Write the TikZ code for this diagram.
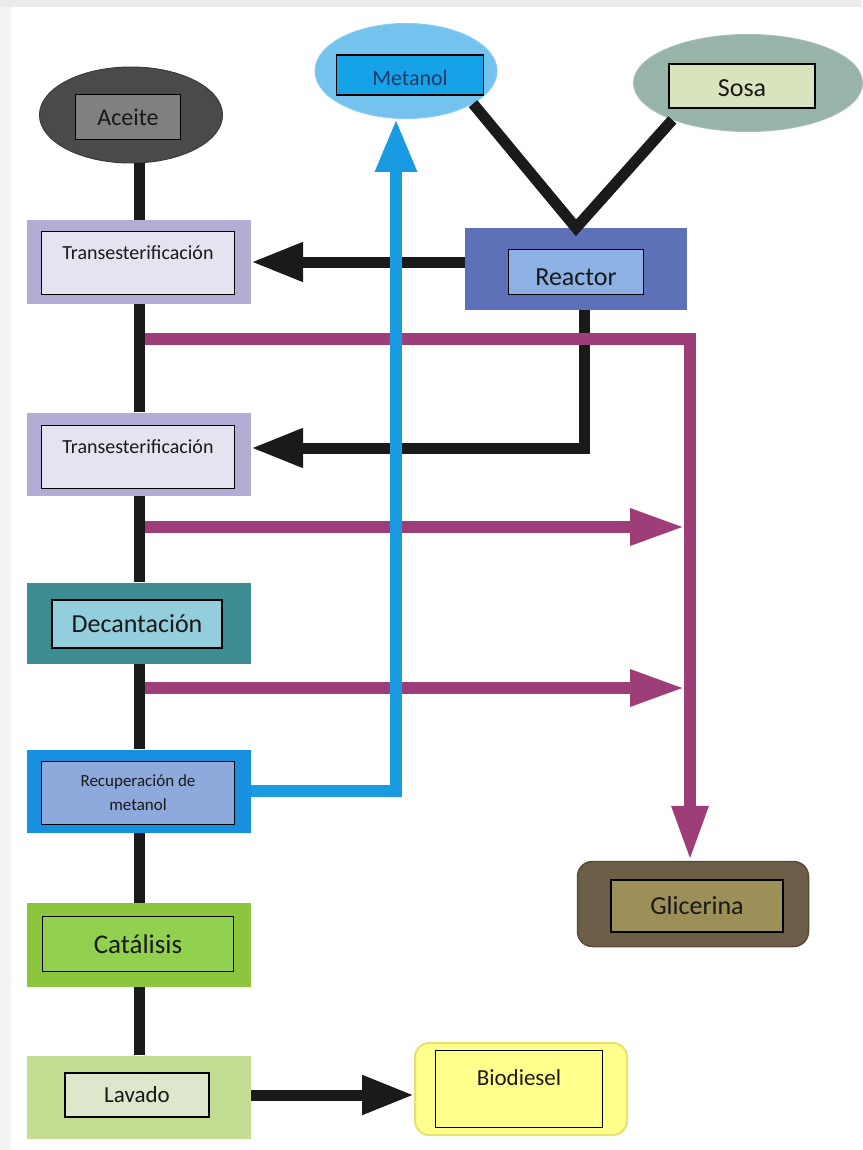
\documentclass[tikz,border=0pt]{standalone}
\usepackage{fontspec}
\setmainfont{Carlito}
\usetikzlibrary{arrows.meta,shapes.geometric}
\definecolor{framegray}{HTML}{EBEBEB}
\definecolor{oilgray}{HTML}{4A4A4A}
\definecolor{oiltag}{HTML}{808080}
\definecolor{methsky}{HTML}{74C3EE}
\definecolor{methtag}{HTML}{16A2E6}
\definecolor{methtext}{HTML}{1F3A68}
\definecolor{sodagray}{HTML}{98B3A8}
\definecolor{sodatag}{HTML}{D9E4BE}
\definecolor{translav}{HTML}{B3ADD6}
\definecolor{transtag}{HTML}{E6E2F0}
\definecolor{reacblue}{HTML}{5E71B8}
\definecolor{reactag}{HTML}{8DB1E4}
\definecolor{decteal}{HTML}{3D8C92}
\definecolor{dectag}{HTML}{93CEDC}
\definecolor{recblue}{HTML}{1890E0}
\definecolor{rectag}{HTML}{8EA9DB}
\definecolor{catgreen}{HTML}{8CC63F}
\definecolor{cattag}{HTML}{92D050}
\definecolor{lavgreen}{HTML}{C3DE92}
\definecolor{lavtag}{HTML}{DCE7CB}
\definecolor{biofill}{HTML}{FFFF8C}
\definecolor{bioedge}{HTML}{E8E070}
\definecolor{glybrown}{HTML}{6D5E47}
\definecolor{glytag}{HTML}{9D8F58}
\definecolor{pipeblack}{HTML}{1A1A1A}
\definecolor{glypipe}{HTML}{9E3E78}
\definecolor{methpipe}{HTML}{1A9AE0}

\begin{document}
\begin{tikzpicture}[
  x=1pt, y=-1pt,
  stage/.style={rectangle, inner sep=0pt, minimum width=224pt, minimum height=83pt},
  tag/.style={rectangle, draw=black, line width=1.3pt, inner sep=0pt, align=center, text=black!90, font=\fontsize{20}{24}\selectfont},
  source/.style={ellipse, inner sep=0pt, line width=1pt},
  pipe/.style={line width=11pt, draw=pipeblack},
  flow/.style={pipe, -{Triangle[length=52pt,width=37pt]}},
  glyflow/.style={line width=12pt, draw=glypipe, -{Triangle[length=55pt,width=34pt]}},
  methflow/.style={line width=12pt, draw=methpipe, -{Triangle[length=53pt,width=39pt]}}
]
\useasboundingbox (0,0) rectangle (862,1150);
\fill[white] (0,0) rectangle (862,1150);
\fill[framegray] (0,0) rectangle (862,7);
\fill[framegray!60] (0,7) rectangle (11,1150);

% raw materials
\node[source, fill=oilgray, draw=oilgray!80!black, minimum width=183pt, minimum height=96pt] (aceite) at (131,115) {};
\node[tag, fill=oiltag, minimum width=105pt, minimum height=45pt, font=\fontsize{24}{28}\selectfont] (aceitetag) at (128,117) {Aceite};
\node[source, fill=methsky, draw=methsky!85!white, minimum width=182pt, minimum height=95pt] (metanol) at (406,71) {};
\node[tag, fill=methtag, minimum width=147pt, minimum height=40pt, text=methtext, font=\fontsize{22}{26}\selectfont, text height=22pt, text depth=0pt] (metanoltag) at (410,75) {Metanol};
\node[source, fill=sodagray, draw=sodagray!85!white, minimum width=229pt, minimum height=97pt] (sosa) at (748,83) {};
\node[tag, fill=sodatag, minimum width=146pt, minimum height=44pt, font=\fontsize{26}{30}\selectfont, text height=22pt, text depth=0pt] (sosatag) at (742,86) {Sosa};

% process stages
\node[stage, fill=translav] (trans1) at (139,262) {};
\node[tag, fill=transtag, minimum width=193pt, minimum height=63pt, font=\fontsize{20}{24}\selectfont, text height=15pt, text depth=22pt] (trans1tag) at (138,263) {Transesterificación};
\node[stage, fill=reacblue, minimum width=222pt, minimum height=82pt] (reactor) at (576,269) {};
\node[tag, fill=reactag, minimum width=135pt, minimum height=45pt, font=\fontsize{26}{30}\selectfont, text height=27pt, text depth=0pt] (reactortag) at (576,272) {Reactor};
\node[stage, fill=translav] (trans2) at (139,454) {};
\node[tag, fill=transtag, minimum width=193pt, minimum height=63pt, font=\fontsize{20}{24}\selectfont, text height=15pt, text depth=22pt] (trans2tag) at (138,457) {Transesterificación};
\node[stage, fill=decteal, minimum height=81pt] (decant) at (139,623) {};
\node[tag, fill=dectag, minimum width=170pt, minimum height=48pt, font=\fontsize{26}{30}\selectfont] (decanttag) at (137,624) {Decantación};
\node[stage, fill=recblue] (recup) at (139,791) {};
\node[tag, fill=rectag, minimum width=193pt, minimum height=63pt, font=\fontsize{17}{24}\selectfont] (recuptag) at (138,793) {Recuperación de\\metanol};
\node[stage, fill=catgreen, minimum height=84pt] (catal) at (139,945) {};
\node[tag, fill=cattag, minimum width=191pt, minimum height=55pt, font=\fontsize{27}{30}\selectfont] (cataltag) at (138,944) {Catálisis};
\node[stage, fill=lavgreen] (lavado) at (139,1097) {};
\node[tag, fill=lavtag, minimum width=144pt, minimum height=44pt, font=\fontsize{23}{27}\selectfont] (lavadotag) at (137,1095) {Lavado};

% products
\node[stage, fill=biofill, draw=bioedge, line width=2pt, rounded corners=14pt, minimum width=212pt, minimum height=92pt] (biodiesel) at (521,1089) {};
\node[tag, fill=biofill, minimum width=167pt, minimum height=77pt, font=\fontsize{23}{27}\selectfont, text height=16pt, text depth=24pt] (biodieseltag) at (519,1089) {Biodiesel};
\node[stage, fill=glybrown, draw=glybrown!80!black, line width=1.5pt, rounded corners=15pt, minimum width=231pt, minimum height=85pt] (glicerina) at (693,904) {};
\node[tag, fill=glytag, minimum width=172pt, minimum height=52pt, font=\fontsize{26}{30}\selectfont] (glicerinatag) at (697,906) {Glicerina};

% free ends of the glycerin lines
\coordinate (gly1) at (145,339);
\coordinate (gly2) at (145,527);
\coordinate (gly2end) at (685,527);
\coordinate (gly3) at (145,688);
\coordinate (gly3end) at (685,688);

% black feed lines
\draw[pipe] (aceite.south -| trans1.north) -- (trans1.north);
\draw[pipe] (metanol.-26) -- (reactor.north) -- (sosa.206);
\draw[flow] (reactor.west |- trans1.east) -- (trans1.east);
\draw[flow] ([xshift=8pt]reactor.south) |- ([yshift=6pt]trans2.east);
\foreach \a/\b in {trans1/trans2, trans2/decant, decant/recup, recup/catal, catal/lavado}
  \draw[pipe] (\a) -- (\b);
\draw[flow] (lavado.east |- lavadotag.east) -- (lavadotag.east -| biodiesel.west);

% glycerin lines
\draw[glyflow] (gly1) -| ([xshift=-3pt]glicerina.north);
\draw[glyflow] (gly2) -- (gly2end);
\draw[glyflow] (gly3) -- (gly3end);

% methanol recovery
\draw[methflow] (recup.east) -| ([xshift=-10pt]metanol.south);
\end{tikzpicture}
\end{document}
